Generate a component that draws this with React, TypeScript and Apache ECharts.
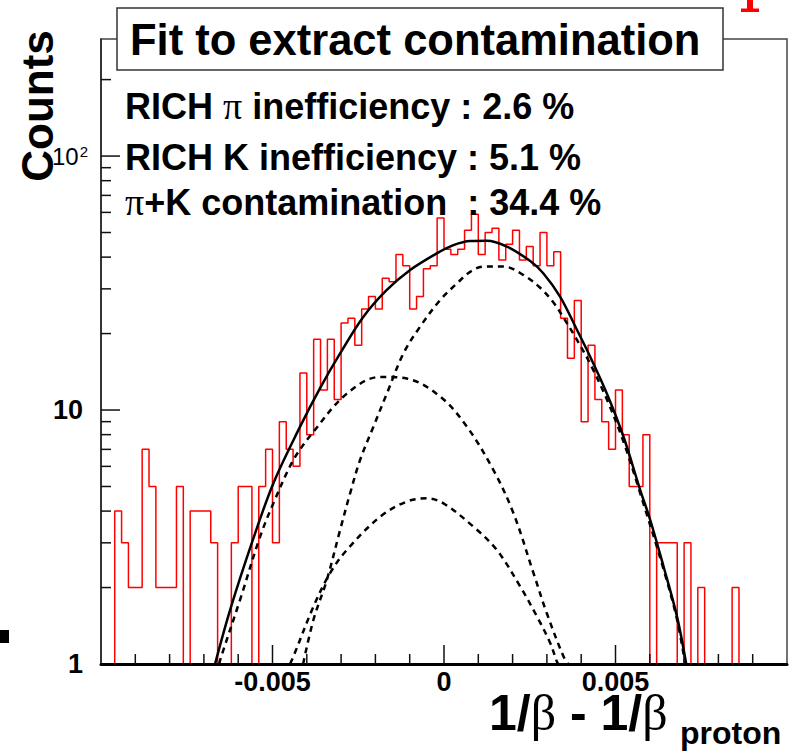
import React, { useEffect, useRef } from 'react';
import * as echarts from 'echarts';

// ---------- data ----------
const binLow = -0.01;
const binWidth = 0.0002;
const binCounts = [
  0, 0, 4, 3, 2, 2, 7, 5, 2, 2,
  2, 5, 1, 4, 4, 4, 3, 1, 1, 3,
  5, 5, 1, 5, 7, 3, 9, 7, 6, 14,
  8, 19, 12, 19, 11, 22, 23, 18, 25, 28,
  25, 33, 32, 41, 37, 25, 28, 36, 37, 57,
  43, 41, 43, 51, 59, 41, 50, 52, 39, 45,
  51, 39, 44, 37, 50, 37, 42, 23, 16, 27,
  9, 18, 11, 9, 7, 12, 8, 5, 5, 8,
  1, 3, 3, 3, 1, 3, 1, 2, 0, 0,
  0, 0, 2, 0, 0, 0, 0, 0, 0, 0,
];

const totalFit = [
  [-0.006675, 1], [-0.006237, 1.63], [-0.005605, 2.99], [-0.004974, 5.15], [-0.004196, 8.6],
  [-0.003613, 12.2], [-0.003029, 16.7], [-0.002349, 23.3], [-0.001667, 29.7], [-0.000987, 35.6],
  [-0.000209, 41.4], [0.000276, 44.6], [0.000763, 46.3], [0.00125, 46.4], [0.001833, 44.0],
  [0.002513, 38.6], [0.0029, 34.5], [0.003388, 27.9], [0.003875, 20.7], [0.004263, 16.2],
  [0.00475, 11.6], [0.005234, 7.85], [0.005721, 4.84], [0.006013, 3.69], [0.006401, 2.42],
  [0.006792, 1.54], [0.007063, 1],
];

const protonFit = [
  [-0.004108, 1], [-0.003808, 1.49], [-0.003417, 2.14], [-0.003029, 3.37], [-0.002737, 4.7],
  [-0.002446, 6.36], [-0.002058, 8.6], [-0.001667, 11.6], [-0.001183, 16.7], [-0.000696, 21.3],
  [-0.000112, 27.1], [0.000375, 31.5], [0.000763, 35.0], [0.001151, 36.7], [0.001734, 36.7],
  [0.002317, 34.0], [0.002804, 30.3], [0.003192, 26.5], [0.003484, 23.1], [0.003875, 18.9],
  [0.004263, 15.2], [0.00475, 11.0], [0.005234, 7.5], [0.005721, 4.7], [0.006401, 2.36],
  [0.006792, 1.5], [0.007034, 1],
];

const midFit = [
  [-0.006558, 1], [-0.00648, 1.085], [-0.005946, 1.79], [-0.005363, 3.17], [-0.004975, 4.29],
  [-0.004391, 6.36], [-0.003808, 8.2], [-0.002834, 11.6], [-0.001862, 13.5], [-0.001084, 13.3],
  [-0.000112, 11.3], [0.000667, 8.6], [0.001442, 5.8], [0.002026, 3.92], [0.002609, 2.28],
  [0.003, 1.58], [0.003484, 1.07], [0.003621, 1],
];

const smallFit = [
  [-0.00449, 1], [-0.004391, 1.07], [-0.003808, 1.68], [-0.003321, 2.28], [-0.002834, 2.81],
  [-0.001862, 3.8], [-0.001084, 4.36], [-0.0005, 4.49], [-0.000016, 4.29], [0.000859, 3.47],
  [0.001541, 2.81], [0.002221, 2.02], [0.002708, 1.54], [0.003096, 1.21], [0.003292, 1.02],
  [0.00333, 1],
];

const xMajorTicks = [-0.005, 0, 0.005];
const xMinorTicks = [
  -0.009, -0.008, -0.007, -0.006, -0.004, -0.003, -0.002, -0.001,
  0.001, 0.002, 0.003, 0.004, 0.006, 0.007, 0.008, 0.009,
];
const yMajorTicks = [10, 100];
const yMinorTicks = [2, 3, 4, 5, 6, 7, 8, 9, 20, 30, 40, 50, 60, 70, 80, 90, 200];

const infoLines = [
  ['RICH ', 'π', ' inefficiency : 2.6 %'],
  ['RICH K inefficiency : 5.1 %', '', ''],
  ['', 'π', '+K contamination  : 34.4 %'],
];

const SANS = '"Liberation Sans", Arial, Helvetica, sans-serif';
const SERIF = '"Liberation Serif", "Times New Roman", serif';

export default function App() {
  const ref = useRef<HTMLDivElement>(null);

  useEffect(() => {
    if (!ref.current) return;
    const chart = echarts.init(ref.current, undefined, { renderer: 'svg' });

    const histData: number[][] = [];
    for (let i = 0; i < binCounts.length; i++) {
      histData.push([binLow + i * binWidth, Math.max(binCounts[i], 1)]);
    }
    histData.push([binLow + binCounts.length * binWidth, Math.max(binCounts[binCounts.length - 1], 1)]);

    const tickData: number[][] = [];
    xMajorTicks.forEach((v) => tickData.push([v, 1, 19, 0]));
    xMinorTicks.forEach((v) => tickData.push([v, 1, 10, 0]));
    yMajorTicks.forEach((v) => tickData.push([binLow, v, 19, 1]));
    yMinorTicks.forEach((v) => tickData.push([binLow, v, 10, 1]));

    const dashed = (data: number[][], name: string) => ({
      name,
      type: 'line',
      data,
      smooth: 0.35,
      symbol: 'none',
      silent: true,
      z: 3,
      lineStyle: { color: '#000', width: 2.5, type: [6, 5] },
    });

    const infoGraphics = infoLines.map((parts, idx) => {
      const ys = [106, 157, 202];
      let text = '';
      if (parts[0]) text += '{b|' + parts[0] + '}';
      if (parts[1]) text += '{p|' + parts[1] + '}';
      if (parts[2]) text += '{b|' + parts[2] + '}';
      return {
        type: 'text',
        z: 101,
        x: 125,
        y: ys[idx],
        style: {
          text,
          fontSize: 36,
          fontFamily: SANS,
          fontWeight: 'bold',
          fill: '#000',
          align: 'left',
          verticalAlign: 'middle',
          rich: {
            b: { fontSize: 36, fontFamily: SANS, fontWeight: 'bold', fill: '#000', lineHeight: 36 },
            p: { fontSize: 38, fontFamily: SERIF, fontWeight: 'normal', fill: '#000', lineHeight: 36 },
          },
        },
      };
    });

    const option: any = {
      animation: false,
      grid: {
        left: 101,
        top: 39,
        right: 8,
        bottom: 89,
        show: true,
        borderColor: '#444',
        borderWidth: 1.5,
        backgroundColor: 'rgba(0,0,0,0)',
      },
      xAxis: {
        type: 'value',
        min: -0.01,
        max: 0.01,
        interval: 0.005,
        z: 10,
        axisLine: { show: true, onZero: false, lineStyle: { color: '#000', width: 3 } },
        axisTick: { show: false },
        minorTick: { show: false },
        splitLine: { show: false },
        axisLabel: {
          showMinLabel: false,
          showMaxLabel: false,
          margin: 6,
          color: '#000',
          fontSize: 27,
          lineHeight: 24,
          fontWeight: 'bold',
          fontFamily: SANS,
        },
      },
      yAxis: {
        type: 'log',
        logBase: 10,
        min: 1,
        max: 289,
        z: 10,
        axisLine: { show: true, onZero: false, lineStyle: { color: '#222', width: 1.5 } },
        axisTick: { show: false },
        minorTick: { show: false },
        splitLine: { show: false },
        minorSplitLine: { show: false },
        axisLabel: {
          showMaxLabel: false,
          margin: 13,
          formatter: (v: number) => {
            const r = Math.round(v);
            return r === 100 ? '{r|10}{s|2}' : '{b|' + r + '}';
          },
          rich: {
            b: { fontSize: 27, fontWeight: 'bold', fontFamily: SANS, color: '#000', padding: [0, 5, 0, 0] },
            r: { fontSize: 24, fontWeight: 'normal', fontFamily: SANS, color: '#000' },
            s: { fontSize: 15, fontWeight: 'normal', fontFamily: SANS, color: '#000', verticalAlign: 'top', padding: [0, 0, 8, 1] },
          },
        },
      },
      series: [
        {
          name: 'histogram',
          type: 'line',
          data: histData,
          step: 'end',
          symbol: 'none',
          silent: true,
          z: 2,
          lineStyle: { color: '#ff0000', width: 1.5 },
        },
        dashed(protonFit, 'proton'),
        dashed(midFit, 'mid'),
        dashed(smallFit, 'small'),
        {
          name: 'total',
          type: 'line',
          data: totalFit,
          smooth: 0.35,
          symbol: 'none',
          silent: true,
          z: 4,
          lineStyle: { color: '#000', width: 2.5 },
        },
        {
          name: 'ticks',
          type: 'custom',
          silent: true,
          z: 12,
          data: tickData,
          renderItem: (params: any, api: any) => {
            const p = api.coord([api.value(0), api.value(1)]);
            const len = api.value(2);
            const horiz = api.value(3);
            const shape = horiz
              ? { x1: p[0], y1: p[1], x2: p[0] + len, y2: p[1] }
              : { x1: p[0], y1: p[1], x2: p[0], y2: p[1] - len };
            return { type: 'line', shape, style: { stroke: '#111', lineWidth: 1.5 } };
          },
        },
      ],
      graphic: [
        {
          type: 'rect',
          z: 100,
          shape: { x: 117, y: 8, width: 606, height: 62 },
          style: { fill: '#fff', stroke: '#333', lineWidth: 1.5 },
        },
        {
          type: 'text',
          z: 101,
          x: 130,
          y: 40,
          style: {
            text: 'Fit to extract contamination',
            fontSize: 43.5,
            fontWeight: 'bold',
            fontFamily: SANS,
            fill: '#000',
            align: 'left',
            verticalAlign: 'middle',
          },
        },
        ...infoGraphics,
        {
          type: 'text',
          z: 101,
          x: 37,
          y: 106,
          rotation: Math.PI / 2,
          style: {
            text: 'Counts',
            fontSize: 44,
            fontWeight: 'bold',
            fontFamily: SANS,
            fill: '#000',
            align: 'center',
            verticalAlign: 'middle',
          },
        },
        {
          type: 'text',
          z: 101,
          x: 489,
          y: 713,
          style: {
            text: '{a|1/}{g|β}{a| - 1/}{g|β}',
            fontSize: 50,
            fontFamily: SANS,
            fill: '#000',
            align: 'left',
            verticalAlign: 'middle',
            rich: {
              a: { fontSize: 50, fontWeight: 'bold', fontFamily: SANS, fill: '#000', lineHeight: 38 },
              g: { fontSize: 50, fontWeight: 'normal', fontFamily: SERIF, fill: '#000', lineHeight: 38 },
            },
          },
        },
        {
          type: 'text',
          z: 101,
          x: 680,
          y: 733,
          style: {
            text: 'proton',
            fontSize: 32,
            fontWeight: 'bold',
            fontFamily: SANS,
            fill: '#000',
            align: 'left',
            verticalAlign: 'middle',
          },
        },
        { type: 'rect', z: 101, shape: { x: 747, y: 0, width: 6, height: 10 }, style: { fill: '#ff0000' } },
        { type: 'rect', z: 101, shape: { x: 741, y: 8.5, width: 18, height: 3.5 }, style: { fill: '#ff0000' } },
        { type: 'rect', z: 101, shape: { x: 0, y: 630, width: 9, height: 13 }, style: { fill: '#000' } },
      ],
    };

    chart.setOption(option);
    return () => {
      chart.dispose();
    };
  }, []);

  return (
    <div
      ref={ref}
      style={{ position: 'absolute', left: 0, top: 0, width: 795, height: 753, background: '#fff' }}
    />
  );
}
